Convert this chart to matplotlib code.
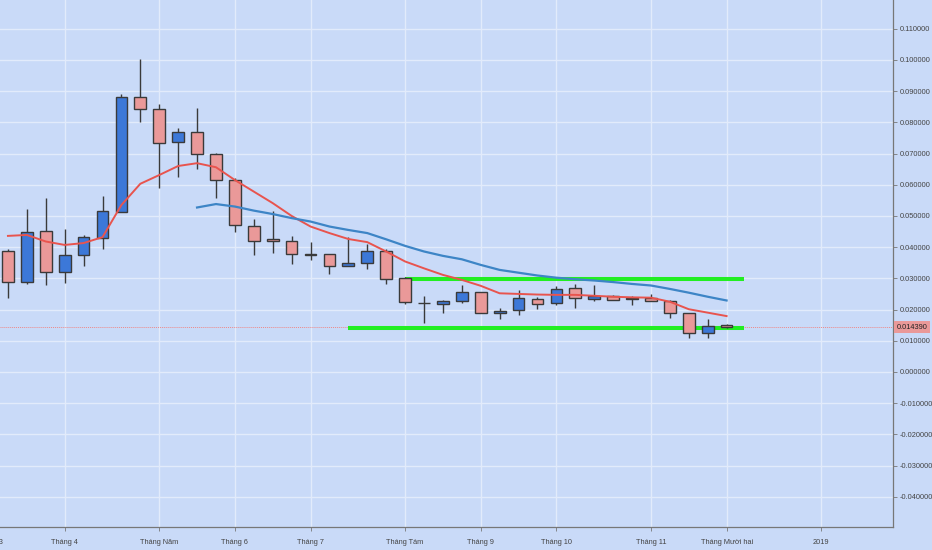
import matplotlib
matplotlib.use("Agg")
import matplotlib.pyplot as plt
import matplotlib.transforms as mtransforms
import numpy as np

# weekly candles, index 0 = first visible week (mid March 2018)
opens = [0.0386, 0.0288, 0.0452, 0.0319, 0.0374, 0.0429, 0.0514, 0.0880, 0.0844, 0.0736,
         0.0768, 0.0698, 0.0616, 0.0468, 0.0425, 0.0419, 0.0375, 0.0377, 0.0341, 0.0348,
         0.0388, 0.0301, 0.0221, 0.0218, 0.0227, 0.0255, 0.0190, 0.0199, 0.0234, 0.0220,
         0.0268, 0.0235, 0.0244, 0.0234, 0.0236, 0.0228, 0.0188, 0.0124, 0.0149]
highs = [0.0394, 0.0522, 0.0559, 0.0458, 0.0439, 0.0565, 0.0890, 0.1003, 0.0858, 0.0781,
         0.0845, 0.0703, 0.0622, 0.0489, 0.0516, 0.0436, 0.0415, 0.0378, 0.0434, 0.0409,
         0.0393, 0.0305, 0.0244, 0.0229, 0.0278, 0.0256, 0.0206, 0.0261, 0.0241, 0.0276,
         0.0281, 0.0279, 0.0245, 0.0244, 0.0249, 0.0229, 0.0189, 0.0170, 0.0152]
lows = [0.0237, 0.0281, 0.0279, 0.0286, 0.0338, 0.0395, 0.0512, 0.0802, 0.0589, 0.0624,
        0.0650, 0.0557, 0.0447, 0.0375, 0.0380, 0.0346, 0.0359, 0.0313, 0.0338, 0.0329,
        0.0281, 0.0218, 0.0158, 0.0190, 0.0222, 0.0188, 0.0171, 0.0182, 0.0201, 0.0213,
        0.0206, 0.0228, 0.0231, 0.0215, 0.0226, 0.0174, 0.0108, 0.0110, 0.0140]
closes = [0.0288, 0.0447, 0.0319, 0.0375, 0.0433, 0.0516, 0.0880, 0.0844, 0.0733, 0.0768,
          0.0700, 0.0616, 0.0471, 0.0421, 0.0419, 0.0377, 0.0374, 0.0341, 0.0349, 0.0388,
          0.0299, 0.0223, 0.0220, 0.0227, 0.0255, 0.0190, 0.0196, 0.0236, 0.0218, 0.0266,
          0.0236, 0.0244, 0.0232, 0.0233, 0.0227, 0.0188, 0.0124, 0.0148, 0.01439]

ma_fast = [0.0436, 0.0439, 0.0418, 0.0407, 0.0413, 0.0432, 0.0535, 0.0603, 0.0631, 0.0660,
           0.0669, 0.0656, 0.0615, 0.0578, 0.0541, 0.0500, 0.0466, 0.0445, 0.0426, 0.0416,
           0.0386, 0.0354, 0.0332, 0.0311, 0.0295, 0.0276, 0.0252, 0.0250, 0.0248, 0.0247,
           0.0247, 0.0244, 0.0241, 0.0239, 0.0238, 0.0225, 0.0201, 0.0190, 0.0179]
ma_slow_start = 10
ma_slow = [0.0527, 0.0538, 0.0530, 0.0517, 0.0506, 0.0493, 0.0482, 0.0466, 0.0455, 0.0445,
           0.0425, 0.0404, 0.0386, 0.0372, 0.0361, 0.0343, 0.0327, 0.0318, 0.0309, 0.0302,
           0.0297, 0.0293, 0.0288, 0.0282, 0.0277, 0.0266, 0.0254, 0.0241, 0.0229]

# drawn support / resistance lines (start index, end index, level)
resistance = (21, 38.9, 0.0298)
support = (18, 38.9, 0.0142)
last_price = 0.01439

month_ticks = [3, 8, 12, 16, 21, 25, 29, 34, 38, 43]
month_labels = ["Tháng 4", "Tháng Năm", "Tháng 6", "Tháng 7", "Tháng Tám", "Tháng 9",
                "Tháng 10", "Tháng 11", "Tháng Mười hai", "2019"]
cut_tick, cut_label = -1, "Tháng 3"

y_ticks = [-0.04, -0.03, -0.02, -0.01, 0.0, 0.01, 0.02, 0.03, 0.04, 0.05,
           0.06, 0.07, 0.08, 0.09, 0.10, 0.11]

bg = "#c9daf8"
up_col = "#3c78d8"
down_col = "#ea9999"
edge = "#3a3a3a"
label_font = ["Liberation Sans", "DejaVu Sans"]
fs = 5.3

fig = plt.figure(figsize=(9.32, 5.5), dpi=100, facecolor=bg)
ax = fig.add_axes([0, 23 / 550, 893 / 932, 527 / 550])
ax.set_facecolor(bg)

x = np.arange(len(opens))
o = np.array(opens)
c = np.array(closes)
h = np.array(highs)
l = np.array(lows)
up = c >= o
colors = np.where(up, up_col, down_col)

ax.vlines(x, l, h, color=edge, linewidth=1.0, zorder=4)
body_h = np.maximum(np.abs(c - o), 0.00025)
ax.bar(x, body_h, bottom=np.minimum(o, c), width=0.62, color=colors,
       edgecolor=edge, linewidth=1.0, zorder=5)

ax.plot(x, ma_fast, color="#e8544e", linewidth=1.4, zorder=6)
ax.plot(np.arange(ma_slow_start, ma_slow_start + len(ma_slow)), ma_slow,
        color="#3d85c6", linewidth=1.6, zorder=6)

for x0, x1, lvl in (resistance, support):
    ax.plot([x0, x1], [lvl, lvl], color="#22ee22", linewidth=2.9,
            solid_capstyle="butt", zorder=3)

ax.axhline(last_price, color="#ee8888", linewidth=0.7, linestyle=(0, (1, 1)), zorder=2)

ax.set_xlim(-0.42, 46.8)
ax.set_ylim(-0.0497, 0.1192)

ax.set_xticks(month_ticks)
ax.set_xticklabels(month_labels)
ax.set_yticks(y_ticks)
ax.set_yticklabels([f"{v:.6f}" for v in y_ticks])
ax.yaxis.tick_right()
ax.tick_params(axis="both", length=3, width=0.6, color="#777777",
               labelsize=fs, labelcolor="#444444", pad=2)
ax.tick_params(axis="x", pad=6)
for t in ax.get_xticklabels() + ax.get_yticklabels():
    t.set_family(label_font)

trans = mtransforms.blended_transform_factory(ax.transData, ax.transAxes)
ax.text(cut_tick, -0.0225, cut_label, transform=trans, ha="center", va="top",
        fontsize=fs, color="#444444", family=label_font, clip_on=False)

ax.grid(True, color="#e2ebfb", linewidth=1.0, zorder=0)
ax.set_axisbelow(True)
for side in ("top", "left"):
    ax.spines[side].set_visible(False)
for side in ("right", "bottom"):
    ax.spines[side].set_color("#777777")
    ax.spines[side].set_linewidth(0.9)

ax.text(1.004, last_price, f"{last_price:.6f}",
        transform=mtransforms.blended_transform_factory(ax.transAxes, ax.transData),
        ha="left", va="center", fontsize=fs, color="#222222", family=label_font,
        bbox=dict(boxstyle="square,pad=0.3", facecolor=down_col, edgecolor="none"),
        clip_on=False, zorder=10)

fig.savefig("out.png", dpi=100, facecolor=bg)
